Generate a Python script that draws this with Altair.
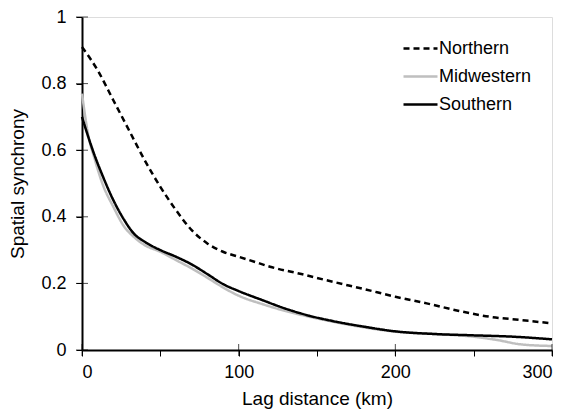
import altair as alt
import pandas as pd

# Lag distance (km) sample positions and synchrony values
north_x = [0, 10, 20, 30, 40, 50, 60, 70, 80, 90, 100, 110, 120, 140, 160, 180, 200, 220, 240, 260, 280, 300]
north_y = [0.91, 0.84, 0.75, 0.66, 0.57, 0.49, 0.42, 0.36, 0.32, 0.295, 0.28, 0.265, 0.25, 0.228, 0.205, 0.183, 0.16, 0.14, 0.118, 0.10, 0.09, 0.08]

mid_x = [0, 4, 8, 13, 20, 27, 33, 40, 50, 60, 70, 80, 90, 100, 115, 130, 145, 160, 180, 200, 225, 250, 265, 280, 300]
mid_y = [0.77, 0.645, 0.575, 0.50, 0.43, 0.37, 0.34, 0.315, 0.295, 0.27, 0.245, 0.217, 0.188, 0.163, 0.138, 0.117, 0.10, 0.085, 0.068, 0.055, 0.048, 0.04, 0.03, 0.017, 0.012]

south_x = [0, 4, 8, 13, 20, 27, 33, 40, 50, 60, 70, 80, 90, 100, 115, 130, 145, 160, 180, 200, 225, 250, 275, 300]
south_y = [0.70, 0.64, 0.585, 0.525, 0.45, 0.39, 0.35, 0.325, 0.30, 0.28, 0.257, 0.228, 0.198, 0.177, 0.15, 0.124, 0.103, 0.087, 0.07, 0.056, 0.048, 0.044, 0.04, 0.032]

regions = ["Northern", "Midwestern", "Southern"]
colors = ["#000000", "#BFBFBF", "#000000"]
dashes = [[6, 4], [1, 0], [1, 0]]

x_major = [0, 100, 200, 300]
y_major = [0, 0.2, 0.4, 0.6, 0.8, 1.0]

rows = []
for name, xs, ys in [("Northern", north_x, north_y), ("Midwestern", mid_x, mid_y), ("Southern", south_x, south_y)]:
    for xv, yv in zip(xs, ys):
        rows.append({"Region": name, "x": xv, "y": yv})
df = pd.DataFrame(rows)

xscale = alt.Scale(domain=[0, 300], nice=False, zero=False)
yscale = alt.Scale(domain=[0, 1], nice=False)

font = "Liberation Sans"

lines = alt.Chart(df).mark_line(strokeWidth=2.5, interpolate="monotone").encode(
    x=alt.X("x:Q", scale=xscale, title="Lag distance (km)",
            axis=alt.Axis(values=list(range(0, 301, 25)), labelExpr="datum.value % 100 == 0 ? datum.label : ''",
                          grid=False, tickSize=6, tickColor="black", tickWidth=1,
                          domainColor="black", domainWidth=2, labelFontSize=18, titleFontSize=19,
                          labelFont=font, titleFont=font, labelColor="black", titleColor="black",
                          titleFontWeight="normal", labelPadding=7, titlePadding=8, format="d")),
    y=alt.Y("y:Q", scale=yscale, title="Spatial synchrony",
            axis=alt.Axis(values=[round(i * 0.1, 1) for i in range(11)],
                          labelExpr="abs(datum.value*5 - round(datum.value*5)) < 0.01 ? format(datum.value, '~g') : ''",
                          grid=False, tickSize=6, tickColor="black", tickWidth=1,
                          domainColor="black", domainWidth=2, labelFontSize=18, titleFontSize=19,
                          labelFont=font, titleFont=font, labelColor="black", titleColor="black",
                          titleFontWeight="normal", labelPadding=10, titlePadding=13)),
    color=alt.Color("Region:N", scale=alt.Scale(domain=regions, range=colors),
                    legend=alt.Legend(title=None, orient="none", legendX=320, legendY=13,
                                      symbolType="stroke", symbolSize=1156, symbolStrokeWidth=2.5,
                                      labelFontSize=18, labelFont=font, labelColor="black",
                                      rowPadding=-4, labelOffset=0)),
    strokeDash=alt.StrokeDash("Region:N", scale=alt.Scale(domain=regions, range=dashes), legend=None),
    detail="Region:N",
)

tick_df = pd.DataFrame({"x": x_major, "y": [0] * len(x_major)})
ytick_df = pd.DataFrame({"x": [0] * len(y_major), "y": y_major})

xticks = alt.Chart(tick_df).mark_tick(orient="vertical", size=12, thickness=1, color="black").encode(
    x=alt.X("x:Q", scale=xscale), y=alt.Y("y:Q", scale=yscale))
yticks = alt.Chart(ytick_df).mark_tick(orient="horizontal", size=12, thickness=1, color="black").encode(
    x=alt.X("x:Q", scale=xscale), y=alt.Y("y:Q", scale=yscale))

chart = alt.layer(lines, xticks, yticks).properties(
    width=470, height=333,
    autosize=alt.AutoSizeParams(type="none"),
    padding={"left": 74, "top": 9, "right": 10, "bottom": 60},
).configure_view(stroke="#808080", strokeWidth=1.5).configure(background="white")

chart.save("out.html", embed_options={"renderer": "svg", "actions": False})
